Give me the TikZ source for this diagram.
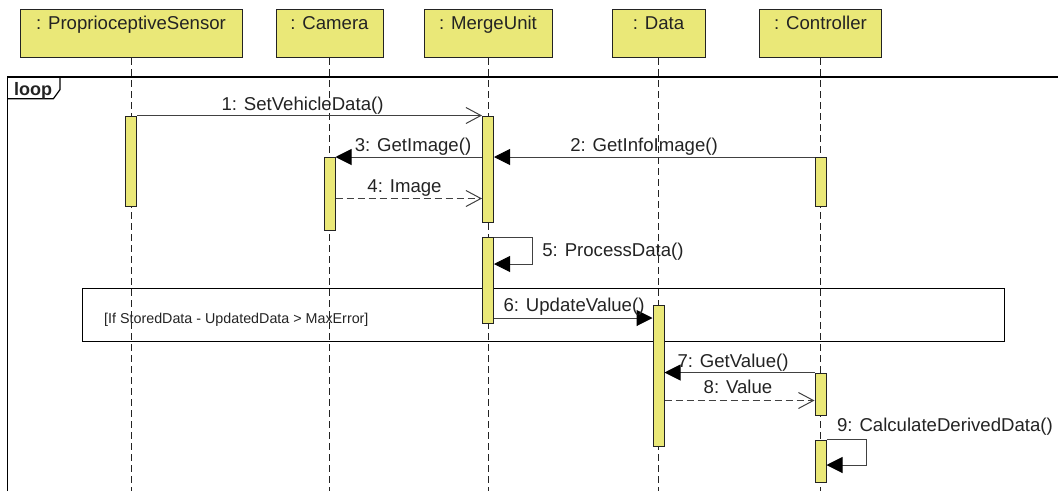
\documentclass[tikz,border=0pt]{standalone}
\usepackage{fontspec}
\setmainfont{Liberation Sans}
\usetikzlibrary{arrows.meta}
\definecolor{uyel}{RGB}{234,232,120}
\definecolor{ink}{RGB}{35,35,35}
\definecolor{msgc}{RGB}{65,65,65}
\begin{document}
\begin{tikzpicture}[x=1pt,y=-1pt,
  head/.style={draw=ink, line width=1pt, fill=uyel, anchor=north, inner xsep=0pt, inner ysep=6pt,
    text height=13.5pt, text depth=22.5pt, font=\fontsize{18.6}{20}\selectfont, text=ink},
  bar/.style={draw=ink, line width=1pt, fill=uyel, minimum width=11pt, inner sep=0pt},
  life/.style={draw=ink, line width=1pt, dash pattern=on 7pt off 4pt},
  frame/.style={draw=black, line width=1.2pt},
  call/.style={draw=msgc, line width=1pt, -{Triangle[length=16pt,width=16pt,color=black]}},
  async/.style={draw=msgc, line width=1pt, -{Straight Barb[length=15pt,width=16pt]}},
  reply/.style={async, dash pattern=on 7pt off 4pt},
  lbl/.style={anchor=base, inner sep=0pt, font=\fontsize{18.6}{20}\selectfont, text=ink},
  cond/.style={anchor=base west, inner sep=0pt, font=\fontsize{14.3}{16}\selectfont, text=ink},
]
\useasboundingbox (0,0) rectangle (1058,491);
% heads
\node[head, minimum width=222pt] (ps)  at (131,9) {: ProprioceptiveSensor};
\node[head, minimum width=107pt] (cam) at (329.5,9) {: Camera};
\node[head, minimum width=128pt] (mu)  at (488,9) {: MergeUnit};
\node[head, minimum width=93pt]  (dat) at (658.5,9) {: Data};
\node[head, minimum width=122pt] (ctl) at (820.5,9) {: Controller};
\coordinate (bot) at (0,491);
% frames
\draw[frame] (7.4,491) -- (7.4,77) -- (1058,77);
\draw[frame] (7.4,98.7) -- (53.4,98.7) -- (60,89.6) -- (60,77);
\node[anchor=base west, inner sep=0pt, font=\fontsize{18}{20}\selectfont\bfseries, text=ink] (looplbl) at (14,95.5) {loop};
% lifelines
\foreach \n in {ps,cam,mu,dat,ctl}{\draw[life] (\n.south) -- (\n.south |- bot);}
% alt box
\draw[frame, line width=1pt] (82.8,288.7) rectangle (1004.7,341.8);
\node[cond] (condlbl) at (104,323) {[If StoredData - UpdatedData > MaxError]};
% activation bars
\node[bar, minimum height=90.5pt]  (psA)  at (131,161.25) {};
\node[bar, minimum height=72.5pt]  (camA) at (329.5,193.75) {};
\node[bar, minimum height=106.5pt] (muA)  at (488,169.25) {};
\node[bar, minimum height=85.5pt]  (muB)  at (488,280.25) {};
\node[bar, minimum height=141pt]   (datA) at (658.5,375.5) {};
\node[bar, minimum height=49pt]    (ctlA) at (820.5,182) {};
\node[bar, minimum height=42pt]    (ctlB) at (820.5,394) {};
\node[bar, minimum height=42pt]    (ctlC) at (820.5,461) {};
% message rows
\coordinate (m4) at (0,198.5);
\coordinate (m5) at (0,264);
\coordinate (m6) at (0,318);
\coordinate (m8) at (0,400.5);
\coordinate (m9) at (0,465);
% messages
\draw[async] (psA.north east) -- (psA.north east -| muA.west);
\draw[call] (ctlA.north west) -- (ctlA.north west -| muA.east);
\draw[call] (muA.west |- camA.north) -- (camA.north east);
\draw[reply] (camA.east |- m4) -- (muA.west |- m4);
\draw[call] (muB.north east) -- ++(38,0) |- (muB.east |- m5);
\draw[call] (muB.east |- m6) -- (datA.west |- m6);
\draw[call] (ctlB.north west) -- (ctlB.north west -| datA.east);
\draw[reply] (datA.east |- m8) -- (ctlB.west |- m8);
\draw[call] (ctlC.north east) -- ++(40,0) |- (ctlC.east |- m9);
% labels
\node[lbl] (l1) at (302.5,110) {1: SetVehicleData()};
\node[lbl] (l2) at (644,151) {2: GetInfoImage()};
\node[lbl] (l3) at (413,151) {3: GetImage()};
\node[lbl] (l4) at (404.5,192) {4: Image};
\node[lbl] (l5) at (613,256) {5: ProcessData()};
\node[lbl] (l6) at (574,311.5) {6: UpdateValue()};
\node[lbl] (l7) at (733,367) {7: GetValue()};
\node[lbl] (l8) at (738,393.5) {8: Value};
\node[lbl] (l9) at (945,431) {9: CalculateDerivedData()};
\end{tikzpicture}
\end{document}
